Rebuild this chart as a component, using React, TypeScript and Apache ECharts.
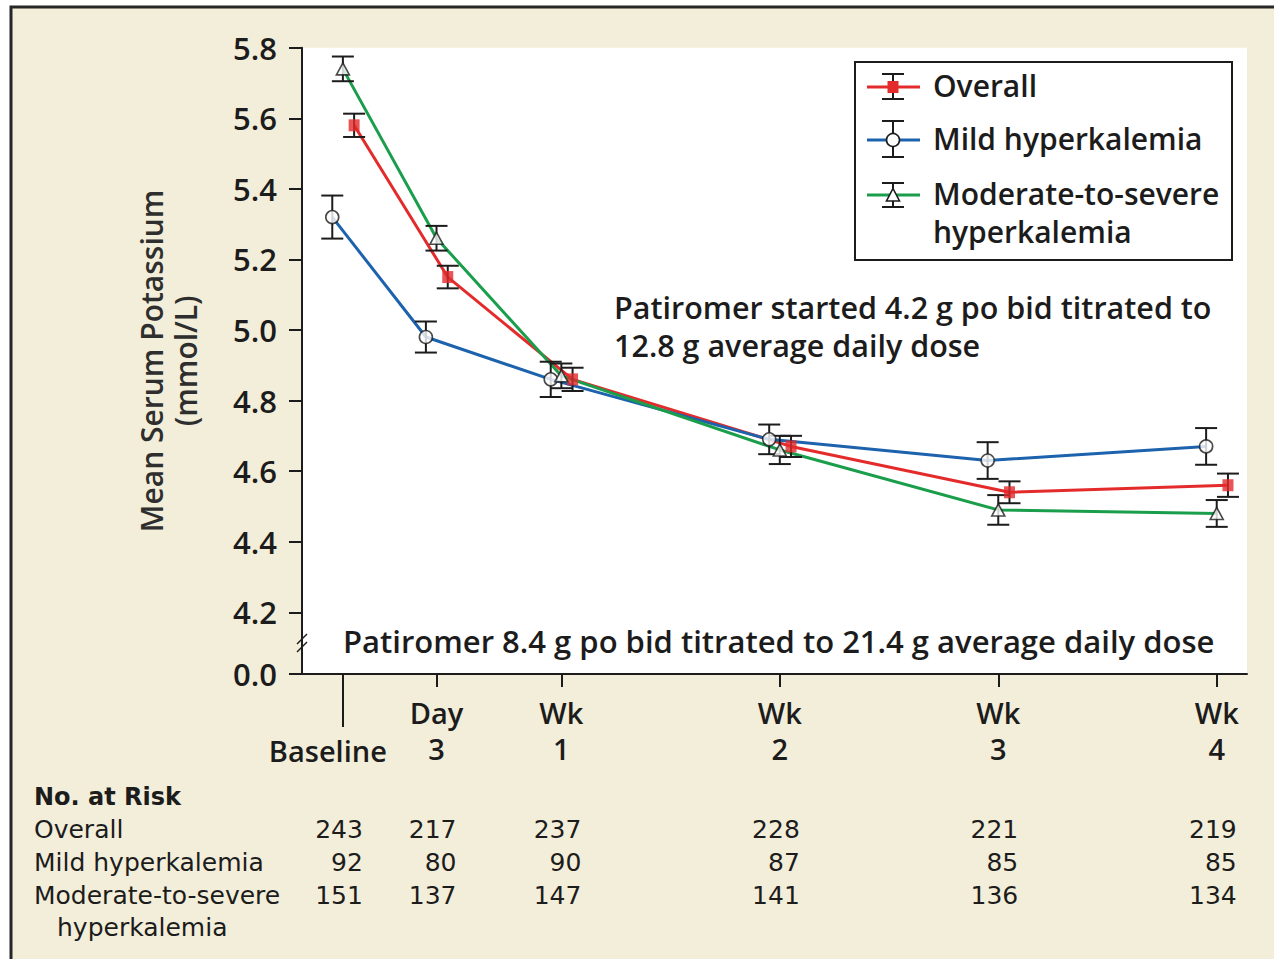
import React, { useEffect, useRef } from "react";
import * as echarts from "echarts";

// ---- data ----
const seriesNames = ["Overall", "Mild hyperkalemia", "Moderate-to-severe hyperkalemia"];
const visitDays = [0, 3, 7, 14, 21, 28];
const visitLabels = ["Baseline", "Day\n3", "Wk\n1", "Wk\n2", "Wk\n3", "Wk\n4"];

const overallMean = [5.58, 5.15, 4.86, 4.67, 4.54, 4.56];
const overallSE = [0.033, 0.032, 0.033, 0.03, 0.031, 0.033];
const mildMean = [5.32, 4.98, 4.86, 4.69, 4.63, 4.67];
const mildSE = [0.061, 0.044, 0.05, 0.042, 0.052, 0.052];
const modMean = [5.74, 5.26, 4.87, 4.66, 4.49, 4.48];
const modSE = [0.035, 0.035, 0.035, 0.04, 0.042, 0.038];

const yTicks = [4.2, 4.4, 4.6, 4.8, 5.0, 5.2, 5.4, 5.6, 5.8];

const riskRowLabels = ["Overall", "Mild hyperkalemia", "Moderate-to-severe"];
const atRiskOverall = [243, 217, 237, 228, 221, 219];
const atRiskMild = [92, 80, 90, 87, 85, 85];
const atRiskMod = [151, 137, 147, 141, 136, 134];

const doseNoteTop = "Patiromer started 4.2 g po bid titrated to\n12.8 g average daily dose";
const doseNoteBottom = "Patiromer 8.4 g po bid titrated to 21.4 g average daily dose";

// ---- styling / layout ----
const FONT = "'Open Sans', 'DejaVu Sans', sans-serif";
const TABLE_FONT = "'DejaVu Sans', sans-serif";
const INK = "#1c1c1c";
const BEIGE = "#f3eed9";
const COLORS = ["#e42b2c", "#1c62ad", "#1a9e4b"];
const SYMBOLS = ["rect", "circle", "triangle"];
const DODGE = [0.36, -0.34, 0];
const Y_FLOOR = 4.025; // bottom of the broken value axis, shown as 0.0
const X_MIN = -1.31;
const X_MAX = 28.97;

const groups = [
  { mean: overallMean, se: overallSE },
  { mean: mildMean, se: mildSE },
  { mean: modMean, se: modSE },
];

function errorBarItem(params: any, api: any) {
  const x = api.value(0);
  const lo = api.coord([x, api.value(1)]);
  const hi = api.coord([x, api.value(2)]);
  const hw = 11;
  const style = { stroke: INK, lineWidth: 2 };
  return {
    type: "group",
    children: [
      { type: "line", shape: { x1: lo[0], y1: lo[1], x2: hi[0], y2: hi[1] }, style },
      { type: "line", shape: { x1: lo[0] - hw, y1: lo[1], x2: lo[0] + hw, y2: lo[1] }, style },
      { type: "line", shape: { x1: hi[0] - hw, y1: hi[1], x2: hi[0] + hw, y2: hi[1] }, style },
    ],
  };
}

function markerStyle(i: number) {
  if (i === 0) return { color: COLORS[0], borderWidth: 0 };
  return { color: "#ffffff", borderColor: INK, borderWidth: 1.6 };
}

function buildOption() {
  const series: any[] = [];
  groups.forEach((g, i) => {
    const pts = visitDays.map((d, k) => [d + DODGE[i], g.mean[k]]);
    series.push({
      name: seriesNames[i],
      type: "line",
      data: pts,
      symbol: "none",
      lineStyle: { color: COLORS[i], width: 3 },
      z: 2,
    });
    series.push({
      name: seriesNames[i] + " SE",
      type: "custom",
      renderItem: errorBarItem,
      encode: { x: 0, y: [1, 2] },
      data: visitDays.map((d, k) => [d + DODGE[i], g.mean[k] - g.se[k], g.mean[k] + g.se[k]]),
      clip: false,
      z: 3,
    });
    series.push({
      name: seriesNames[i] + " mean",
      type: "scatter",
      data: pts,
      symbol: SYMBOLS[i],
      symbolSize: i === 0 ? [11, 12] : i === 1 ? 13 : [13, 12],
      itemStyle: markerStyle(i),
      z: 4,
    });
  });

  const labelFont = { fontFamily: FONT, fontWeight: 600, color: INK };

  return {
    animation: false,
    backgroundColor: BEIGE,
    grid: {
      left: 302,
      right: 27,
      top: 47.7,
      bottom: 285,
      show: true,
      backgroundColor: "#ffffff",
      borderWidth: 0,
    },
    xAxis: [
      {
        type: "value",
        min: X_MIN,
        max: X_MAX,
        position: "bottom",
        splitLine: { show: false },
        axisLine: { show: true, onZero: false, lineStyle: { color: INK, width: 2 } },
        axisTick: {
          show: true,
          customValues: visitDays.slice(1),
          length: 13,
          lineStyle: { color: INK, width: 2 },
        },
        axisLabel: {
          ...labelFont,
          customValues: visitDays.slice(1),
          formatter: (v: number) => visitLabels[visitDays.indexOf(Math.round(v))] || "",
          fontSize: 29,
          lineHeight: 36,
          margin: 20,
        },
      },
      {
        type: "value",
        min: X_MIN,
        max: X_MAX,
        position: "bottom",
        splitLine: { show: false },
        axisLine: { show: false, onZero: false },
        axisTick: {
          show: true,
          customValues: [visitDays[0]],
          length: 53,
          lineStyle: { color: INK, width: 2 },
        },
        axisLabel: {
          ...labelFont,
          customValues: [visitDays[0]],
          formatter: () => visitLabels[0],
          fontSize: 29,
          lineHeight: 36,
          margin: 58,
          padding: [0, 30, 0, 0],
        },
      },
    ],
    yAxis: {
      type: "value",
      min: Y_FLOOR,
      max: 5.8,
      splitLine: { show: false },
      axisLine: { show: true, onZero: false, lineStyle: { color: INK, width: 2 } },
      axisTick: {
        show: true,
        customValues: [Y_FLOOR, ...yTicks],
        length: 13,
        lineStyle: { color: INK, width: 2 },
      },
      axisLabel: {
        ...labelFont,
        customValues: [Y_FLOOR, ...yTicks],
        formatter: (v: number) => (v < 4.1 ? "0.0" : v.toFixed(1)),
        fontSize: 31,
        margin: 25,
      },
      name: "Mean Serum Potassium\n(mmol/L)",
      nameLocation: "middle",
      nameRotate: 90,
      nameGap: 100,
      nameTextStyle: {
        fontFamily: FONT,
        fontWeight: 600,
        fontSize: 30,
        lineHeight: 34,
        color: "#2e2e2e",
      },
    },
    series,
  };
}

function buildGraphic(chart: any) {
  const px = (d: number) => chart.convertToPixel({ xAxisIndex: 0 }, d);
  const py = (v: number) => chart.convertToPixel({ yAxisIndex: 0 }, v);
  const els: any[] = [];
  const txt = (
    x: number,
    y: number,
    text: string,
    size: number,
    weight: any,
    align = "left",
    lh = 30,
    family = FONT
  ) => ({
    type: "text",
    x,
    y,
    z: 100,
    style: {
      text,
      fontFamily: family,
      fontSize: size,
      fontWeight: weight,
      lineHeight: lh,
      fill: INK,
      align,
      verticalAlign: "middle",
    },
  });

  // white margin outside the frame, then the frame
  els.push({ type: "rect", z: 100, shape: { x: 0, y: 0, width: 1274, height: 6 }, style: { fill: "#ffffff" } });
  els.push({ type: "rect", z: 100, shape: { x: 0, y: 0, width: 10, height: 959 }, style: { fill: "#ffffff" } });
  els.push({
    type: "rect",
    z: 101,
    shape: { x: 11, y: 7, width: 1300, height: 1000 },
    style: { fill: "none", stroke: "#262626", lineWidth: 3 },
  });

  // axis break marks
  const axX = px(X_MIN);
  const brY = py(4.113);
  [-4, 4].forEach((dy) => {
    els.push({
      type: "line",
      z: 100,
      shape: { x1: axX - 5, y1: brY + dy + 5, x2: axX + 5, y2: brY + dy - 5 },
      style: { stroke: INK, lineWidth: 1.5 },
    });
  });

  // legend box
  const lg = { x: 855, y: 62, w: 377, h: 198 };
  els.push({
    type: "rect",
    z: 100,
    shape: { x: lg.x, y: lg.y, width: lg.w, height: lg.h },
    style: { fill: "#ffffff", stroke: INK, lineWidth: 2 },
  });
  const legendRows = [
    { y: 87, lo: 74, hi: 99, lines: [seriesNames[0]] },
    { y: 140, lo: 121, hi: 157, lines: [seriesNames[1]] },
    { y: 195, lo: 183, hi: 207, lines: ["Moderate-to-severe", "hyperkalemia"] },
  ];
  legendRows.forEach((r, i) => {
    const cx = 893;
    els.push({ type: "line", z: 101, shape: { x1: 867, y1: r.y, x2: 920, y2: r.y }, style: { stroke: COLORS[i], lineWidth: 3 } });
    const st = { stroke: INK, lineWidth: 2 };
    els.push({ type: "line", z: 102, shape: { x1: cx, y1: r.lo, x2: cx, y2: r.hi }, style: st });
    els.push({ type: "line", z: 102, shape: { x1: cx - 11, y1: r.lo, x2: cx + 11, y2: r.lo }, style: st });
    els.push({ type: "line", z: 102, shape: { x1: cx - 11, y1: r.hi, x2: cx + 11, y2: r.hi }, style: st });
    if (i === 0) {
      els.push({ type: "rect", z: 103, shape: { x: cx - 5.5, y: r.y - 6, width: 11, height: 12 }, style: { fill: COLORS[0] } });
    } else if (i === 1) {
      els.push({ type: "circle", z: 103, shape: { cx, cy: r.y, r: 6.5 }, style: { fill: "#fff", stroke: INK, lineWidth: 1.6 } });
    } else {
      els.push({
        type: "polygon",
        z: 103,
        shape: { points: [[cx, r.y - 6.5], [cx + 6.5, r.y + 6], [cx - 6.5, r.y + 6]] },
        style: { fill: "#fff", stroke: INK, lineWidth: 1.6 },
      });
    }
    r.lines.forEach((t, k) => els.push(txt(933, r.y - 2 + k * 38, t, 30, 600, "left", 34)));
  });

  // dose annotations
  els.push(txt(614, 326, doseNoteTop, 30.5, 600, "left", 38));
  els.push(txt(343, 641, doseNoteBottom, 31, 600, "left", 34));

  // number at risk table
  els.push(txt(34, 797, "No. at Risk", 24, 700, "left", 29, TABLE_FONT));
  const rows = [atRiskOverall, atRiskMild, atRiskMod];
  const rowY = [829, 862, 895];
  rows.forEach((vals, r) => {
    els.push(txt(34, rowY[r], riskRowLabels[r], 25, 400, "left", 29, TABLE_FONT));
    vals.forEach((n, k) => {
      els.push(txt(px(visitDays[k]) + 20, rowY[r], String(n), 25, 400, "right", 29, TABLE_FONT));
    });
  });
  els.push(txt(57, 927, "hyperkalemia", 25, 400, "left", 29, TABLE_FONT));

  return { elements: els };
}

export default function App() {
  const ref = useRef<HTMLDivElement>(null);
  useEffect(() => {
    if (!ref.current) return;
    const chart = echarts.init(ref.current, null, { renderer: "svg" });
    chart.setOption(buildOption() as any);
    chart.setOption({ graphic: buildGraphic(chart) } as any);
    return () => chart.dispose();
  }, []);
  return (
    <div
      ref={ref}
      style={{ position: "fixed", left: 0, top: 0, width: 1274, height: 959 }}
    />
  );
}
